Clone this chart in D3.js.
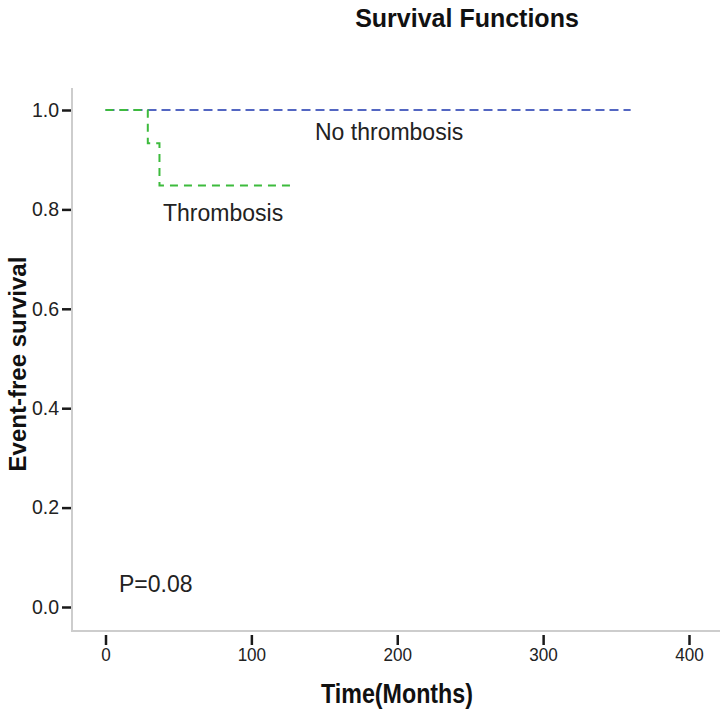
<!DOCTYPE html>
<html>
<head>
<meta charset="utf-8">
<script src="https://cdn.jsdelivr.net/npm/d3@7"></script>
<style>
  html, body { margin: 0; padding: 0; background: #fff; }
  svg { display: block; }
</style>
</head>
<body>
<svg id="chart" width="726" height="712"></svg>
<script>
// ---- data ----
const groupNames = ["No thrombosis", "Thrombosis"];
const noThrombosisTime = [0, 360];
const noThrombosisSurv = [1.0, 1.0];
const thrombosisTime = [0, 29, 37, 128];
const thrombosisSurv = [1.0, 0.933, 0.848, 0.848];
const xTicks = [0, 100, 200, 300, 400];
const yTicks = [0.0, 0.2, 0.4, 0.6, 0.8, 1.0];
const pValueText = "P=0.08";

// ---- chart ----
const svg = d3.select("#chart");
const frameLeft = 72, frameRight = 720, frameTop = 88, frameBottom = 631;

const x = d3.scaleLinear().domain([0, 400]).range([105.5, 689]);
const y = d3.scaleLinear().domain([0, 1]).range([607, 110]);

// frame
svg.append("line").attr("x1", frameLeft).attr("x2", frameLeft)
  .attr("y1", frameTop).attr("y2", frameBottom + 1)
  .attr("stroke", "#cdcdcd").attr("stroke-width", 2);
svg.append("line").attr("x1", frameLeft).attr("x2", frameRight)
  .attr("y1", frameBottom).attr("y2", frameBottom)
  .attr("stroke", "#cdcdcd").attr("stroke-width", 2);

// y axis
const yAxis = d3.axisLeft(y).tickValues(yTicks).tickFormat(d3.format(".1f"))
  .tickSize(9).tickPadding(3).tickSizeOuter(0);
const gy = svg.append("g").attr("transform", `translate(${frameLeft - 1},0)`).call(yAxis);
gy.select(".domain").remove();
gy.selectAll(".tick line").attr("stroke", "#1a1a1a").attr("stroke-width", 2.5);
gy.selectAll(".tick text").attr("fill", "#222")
  .style("font-family", "'Liberation Sans', Arial, sans-serif").style("font-size", "19.5px");

// x axis
const xAxis = d3.axisBottom(x).tickValues(xTicks).tickFormat(d3.format("d"))
  .tickSize(10).tickPadding(3).tickSizeOuter(0);
const gx = svg.append("g").attr("transform", `translate(0,${frameBottom + 4})`).call(xAxis);
gx.select(".domain").remove();
gx.selectAll(".tick line").attr("stroke", "#1a1a1a").attr("stroke-width", 2.5);
gx.selectAll(".tick text").attr("fill", "#222")
  .style("font-family", "'Liberation Sans', Arial, sans-serif").style("font-size", "19px")
  .attr("textLength", d => d === 0 ? 9.5 : 28.5).attr("lengthAdjust", "spacingAndGlyphs");

// survival lines
const line = d3.line().x(d => x(d[0])).y(d => y(d[1])).curve(d3.curveStepAfter);
const blueData = noThrombosisTime.map((t, i) => [t, noThrombosisSurv[i]]);
const greenData = thrombosisTime.map((t, i) => [t, thrombosisSurv[i]]);

svg.append("path").datum(blueData).attr("d", line)
  .attr("fill", "none").attr("stroke", "#5366c2").attr("stroke-width", 2)
  .attr("stroke-dasharray", "9,5");
svg.append("path").datum(greenData).attr("d", line)
  .attr("fill", "none").attr("stroke", "#3dbb3d").attr("stroke-width", 2)
  .attr("stroke-dasharray", "8,6");

// labels
const labelFont = "'Liberation Sans', Arial, sans-serif";
svg.append("text").attr("x", 315).attr("y", 140).text(groupNames[0])
  .style("font-family", labelFont).style("font-size", "23px").attr("fill", "#222");
svg.append("text").attr("x", 163).attr("y", 221).text(groupNames[1])
  .style("font-family", labelFont).style("font-size", "23px").attr("fill", "#222");
svg.append("text").attr("x", 119).attr("y", 592).text(pValueText)
  .style("font-family", labelFont).style("font-size", "23px").attr("fill", "#222");

// titles
svg.append("text").attr("x", 467).attr("y", 27).attr("text-anchor", "middle")
  .text("Survival Functions")
  .style("font-family", labelFont).style("font-size", "25px").style("font-weight", "bold").attr("fill", "#111");
svg.append("text").attr("x", 397).attr("y", 703).attr("text-anchor", "middle")
  .text("Time(Months)")
  .attr("textLength", 152).attr("lengthAdjust", "spacingAndGlyphs")
  .style("font-family", labelFont)
  .style("font-size", "27px").style("font-weight", "bold").attr("fill", "#111");
svg.append("text").attr("transform", "translate(26,364) rotate(-90)").attr("text-anchor", "middle")
  .text("Event-free survival")
  .style("font-family", labelFont).style("font-size", "24px").style("font-weight", "bold").attr("fill", "#111");
</script>
</body>
</html>
